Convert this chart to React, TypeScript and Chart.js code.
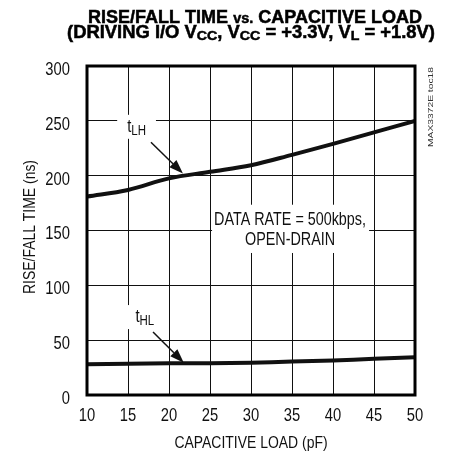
import React, { useEffect, useRef } from "react";
import { Chart, registerables } from "chart.js";

Chart.register(...registerables);

const capacitiveLoad = [10, 15, 20, 25, 30, 35, 40, 45, 50];
const tLH = [181, 187, 197.5, 203.5, 209.5, 219, 229, 239.5, 250];
const tHL = [28, 28.5, 29, 29, 29.5, 30.5, 31.5, 33, 34.5];

const xTitle = "CAPACITIVE LOAD (pF)";
const yTitle = "RISE/FALL TIME (ns)";
const noteLines = ["DATA RATE = 500kbps,", "OPEN-DRAIN"];
const sideNote = "MAX3372E toc18";

type Seg = { t: string; s: number; sub?: boolean };
const titleLine1: Seg[] = [
  { t: "RISE/FALL TIME ", s: 17.5 },
  { t: "vs.", s: 14 },
  { t: " CAPACITIVE LOAD", s: 17.5 },
];
const titleLine2: Seg[] = [
  { t: "(DRIVING I/O V", s: 17.5 },
  { t: "CC", s: 13.5, sub: true },
  { t: ", V", s: 17.5 },
  { t: "CC", s: 13.5, sub: true },
  { t: " = +3.3V, V", s: 17.5 },
  { t: "L", s: 13.5, sub: true },
  { t: " = +1.8V)", s: 17.5 },
];

const FAM = "'Liberation Sans', Arial, sans-serif";
const INK = "#111";
const NARROW = 0.82;

function narrowText(
  ctx: CanvasRenderingContext2D,
  text: string,
  x: number,
  y: number,
  size: number,
  align: "left" | "center" | "right",
  rot = 0,
  sx = NARROW,
  color = INK
) {
  ctx.save();
  ctx.translate(x, y);
  if (rot) ctx.rotate(rot);
  ctx.scale(sx, 1);
  ctx.font = `${size}px ${FAM}`;
  ctx.fillStyle = color;
  ctx.textAlign = align;
  ctx.textBaseline = "middle";
  ctx.fillText(text, 0, 0);
  ctx.restore();
}

function drawSegs(ctx: CanvasRenderingContext2D, segs: Seg[], left: number, right: number, baseline: number) {
  ctx.save();
  let w = 0;
  for (const sg of segs) {
    ctx.font = `bold ${sg.s}px ${FAM}`;
    w += ctx.measureText(sg.t).width;
  }
  const target = right - left;
  ctx.translate(left, baseline);
  ctx.scale(target / w, 1);
  ctx.fillStyle = "#000";
  ctx.strokeStyle = "#000";
  ctx.lineWidth = 0.5;
  ctx.textBaseline = "alphabetic";
  ctx.textAlign = "left";
  let x = 0;
  for (const sg of segs) {
    ctx.font = `bold ${sg.s}px ${FAM}`;
    const y = sg.sub ? 2.5 : 0;
    ctx.fillText(sg.t, x, y);
    ctx.strokeText(sg.t, x, y);
    x += ctx.measureText(sg.t).width;
  }
  ctx.restore();
}

function drawTLabel(ctx: CanvasRenderingContext2D, sub: string, x: number, y: number) {
  ctx.save();
  ctx.font = `18px ${FAM}`;
  const tw = ctx.measureText("t").width * NARROW;
  ctx.font = `14px ${FAM}`;
  const sw = ctx.measureText(sub).width * NARROW;
  ctx.fillStyle = "#fff";
  ctx.fillRect(x - 10, y - 17, tw + sw + 20, 24);
  ctx.fillStyle = INK;
  ctx.textBaseline = "alphabetic";
  ctx.textAlign = "left";
  ctx.translate(x, y);
  ctx.scale(NARROW, 1);
  ctx.font = `18px ${FAM}`;
  ctx.fillText("t", 0, 0);
  ctx.font = `14px ${FAM}`;
  ctx.fillText(sub, tw / NARROW, 3);
  ctx.restore();
}

function drawArrow(ctx: CanvasRenderingContext2D, x1: number, y1: number, x2: number, y2: number) {
  const ang = Math.atan2(y2 - y1, x2 - x1);
  const L = 14;
  const W = 5;
  ctx.save();
  ctx.strokeStyle = INK;
  ctx.fillStyle = INK;
  ctx.lineWidth = 1.5;
  ctx.beginPath();
  ctx.moveTo(x1, y1);
  ctx.lineTo(x2 - L * Math.cos(ang), y2 - L * Math.sin(ang));
  ctx.stroke();
  ctx.beginPath();
  ctx.moveTo(x2, y2);
  ctx.lineTo(x2 - L * Math.cos(ang) + W * Math.sin(ang), y2 - L * Math.sin(ang) - W * Math.cos(ang));
  ctx.lineTo(x2 - L * Math.cos(ang) - W * Math.sin(ang), y2 - L * Math.sin(ang) + W * Math.cos(ang));
  ctx.closePath();
  ctx.fill();
  ctx.restore();
}

const decorPlugin = {
  id: "decor",
  beforeDatasetsDraw(chart: any) {
    const { ctx, scales } = chart;
    const x = scales.x, y = scales.y;
    const l = x.getPixelForValue(25.25), r = x.getPixelForValue(44.4);
    const t = y.getPixelForValue(173.5), b = y.getPixelForValue(129.5);
    ctx.save();
    ctx.fillStyle = "#fff";
    ctx.fillRect(l, t, r - l, b - t);
    ctx.restore();
  },
  afterDatasetsDraw(chart: any) {
    const { ctx, scales, chartArea } = chart;
    const x = scales.x, y = scales.y;
    drawTLabel(ctx, "LH", x.getPixelForValue(14.9), y.getPixelForValue(240));
    drawArrow(ctx, x.getPixelForValue(17.8), y.getPixelForValue(230.5), x.getPixelForValue(21.7), y.getPixelForValue(202));
    drawTLabel(ctx, "HL", x.getPixelForValue(15.9), y.getPixelForValue(66.5));
    drawArrow(ctx, x.getPixelForValue(18.05), y.getPixelForValue(57.5), x.getPixelForValue(21.8), y.getPixelForValue(29.5));
    const cx = x.getPixelForValue(34.76);
    narrowText(ctx, noteLines[0], cx, y.getPixelForValue(159.7), 17.5, "center");
    narrowText(ctx, noteLines[1], cx, y.getPixelForValue(141.4), 17.5, "center");
    ctx.save();
    ctx.strokeStyle = "#000";
    ctx.lineWidth = 3;
    ctx.strokeRect(chartArea.left, chartArea.top, chartArea.right - chartArea.left, chartArea.bottom - chartArea.top);
    ctx.restore();
  },
  afterDraw(chart: any) {
    const { ctx, chartArea, scales } = chart;
    const x = scales.x, y = scales.y;
    for (const tk of x.ticks) {
      narrowText(ctx, String(tk.value), x.getPixelForValue(tk.value), chartArea.bottom + 21.5, 18, "center");
    }
    for (const tk of y.ticks) {
      narrowText(ctx, String(tk.value), chartArea.left - 17, y.getPixelForValue(tk.value) + 4, 18, "right");
    }
    narrowText(ctx, xTitle, (chartArea.left + chartArea.right) / 2, 443, 17, "center");
    narrowText(ctx, yTitle, 30, (chartArea.top + chartArea.bottom) / 2 - 3.5, 17, "center", -Math.PI / 2);
    drawSegs(ctx, titleLine1, 88, 422, 22.7);
    drawSegs(ctx, titleLine2, 67, 435, 37.5);
    ctx.save();
    ctx.font = `8px ${FAM}`;
    const w = ctx.measureText(sideNote).width;
    ctx.restore();
    narrowText(ctx, sideNote, chartArea.right + 15.5, chartArea.top + 41, 8, "center", -Math.PI / 2, 80 / w, "#333");
  },
};

export default function App() {
  const ref = useRef<HTMLCanvasElement>(null);
  useEffect(() => {
    const canvas = ref.current!;
    const chart = new Chart(canvas, {
      type: "line",
      data: {
        datasets: [
          {
            label: "tLH",
            data: capacitiveLoad.map((c, i) => ({ x: c, y: tLH[i] })),
            borderColor: "#111",
            borderWidth: 4,
            pointRadius: 0,
            tension: 0.35,
            fill: false,
          },
          {
            label: "tHL",
            data: capacitiveLoad.map((c, i) => ({ x: c, y: tHL[i] })),
            borderColor: "#111",
            borderWidth: 4,
            pointRadius: 0,
            tension: 0.35,
            fill: false,
          },
        ],
      },
      options: {
        animation: false,
        responsive: false,
        layout: { padding: { top: 66, right: 35, left: 0, bottom: 0 } },
        plugins: { legend: { display: false }, tooltip: { enabled: false }, title: { display: false } },
        scales: {
          x: {
            type: "linear",
            min: 10,
            max: 50,
            afterFit: (s: any) => { s.height = 59; },
            ticks: { stepSize: 5, display: false },
            grid: { color: "#111", lineWidth: 1, drawTicks: false },
            border: { display: false },
            title: { display: false },
          },
          y: {
            type: "linear",
            min: 0,
            max: 300,
            afterFit: (s: any) => { s.width = 87; },
            ticks: { stepSize: 50, display: false },
            grid: { color: "#111", lineWidth: 1, drawTicks: false },
            border: { display: false },
            title: { display: false },
          },
        },
      },
      plugins: [decorPlugin],
    } as any);
    return () => chart.destroy();
  }, []);
  return (
    <div style={{ position: "fixed", left: 0, top: 0, width: 450, height: 454, background: "#fff" }}>
      <canvas ref={ref} width={450} height={454} />
    </div>
  );
}
